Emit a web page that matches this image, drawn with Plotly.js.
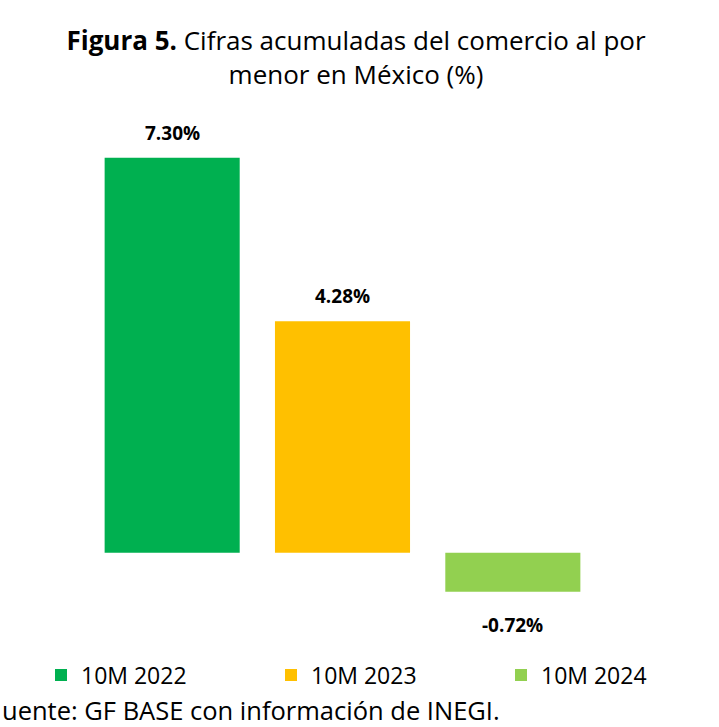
<!DOCTYPE html>
<html>
<head>
<meta charset="utf-8">
<script src="https://cdn.plot.ly/plotly-3.0.1.min.js"></script>
<style>html,body{margin:0;padding:0;background:#fff;}#chart{width:719px;height:727px;}</style>
</head>
<body>
<div id="chart"></div>
<script>
const categories = ['10M 2022', '10M 2023', '10M 2024'];
const values = [7.30, 4.28, -0.72];
const labels = ['7.30%', '4.28%', '-0.72%'];
const colors = ['#00B050', '#FFC000', '#92D050'];
const titleText = '<b>Figura 5.</b> Cifras acumuladas del comercio al por<br>menor en México (%)';
const sourceText = 'uente: GF BASE con información de INEGI.';

const FONT = 'Open Sans, Noto Sans, sans-serif';
const W = 719, H = 727;

const traces = categories.map((c, i) => ({
  type: 'bar',
  name: c,
  x: [c],
  y: [values[i]],
  marker: {color: colors[i]},
  hoverinfo: 'skip'
}));

const annotations = categories.map((c, i) => ({
  x: c, y: values[i], xref: 'x', yref: 'y',
  text: '<b>' + labels[i] + '</b>',
  showarrow: false,
  yshift: values[i] >= 0 ? 25 : -33,
  font: {family: FONT, size: 19, color: '#000'}
}));
annotations.push({
  xref: 'paper', yref: 'paper',
  x: 0, y: (634 - 710)/514, xanchor: 'left', yanchor: 'middle',
  text: sourceText, showarrow: false,
  font: {family: FONT, size: 25.5, color: '#000'}
});

const layout = {
  width: W, height: H,
  paper_bgcolor: '#fff', plot_bgcolor: '#fff',
  margin: {l: 0, r: 0, t: 120, b: 93, autoexpand: false},
  title: {
    text: titleText,
    xref: 'container', yref: 'container',
    x: 356/W, xanchor: 'center',
    y: 1 - 50/H, yanchor: 'top',
    font: {family: FONT, size: 26, color: '#000'}
  },
  barmode: 'relative',
  bargap: 0.207,
  xaxis: {type: 'category', categoryorder: 'array', categoryarray: categories,
          domain: [87/W, 598/W],
          showticklabels: false, showgrid: false, zeroline: false, showline: false, ticks: ''},
  yaxis: {range: [-1.5, 8], showticklabels: false, showgrid: false, zeroline: false, showline: false, ticks: ''},
  showlegend: true,
  legend: {
    orientation: 'h',
    xref: 'container', yref: 'container',
    x: 41/W, xanchor: 'left',
    y: 1 - 675/H, yanchor: 'middle',
    entrywidth: 185, entrywidthmode: 'pixels',
    font: {family: FONT, size: 23, color: '#000'},
    bgcolor: 'rgba(0,0,0,0)'
  },
  annotations: annotations
};

Plotly.newPlot('chart', traces, layout, {displayModeBar: false, staticPlot: true});
</script>
</body>
</html>
